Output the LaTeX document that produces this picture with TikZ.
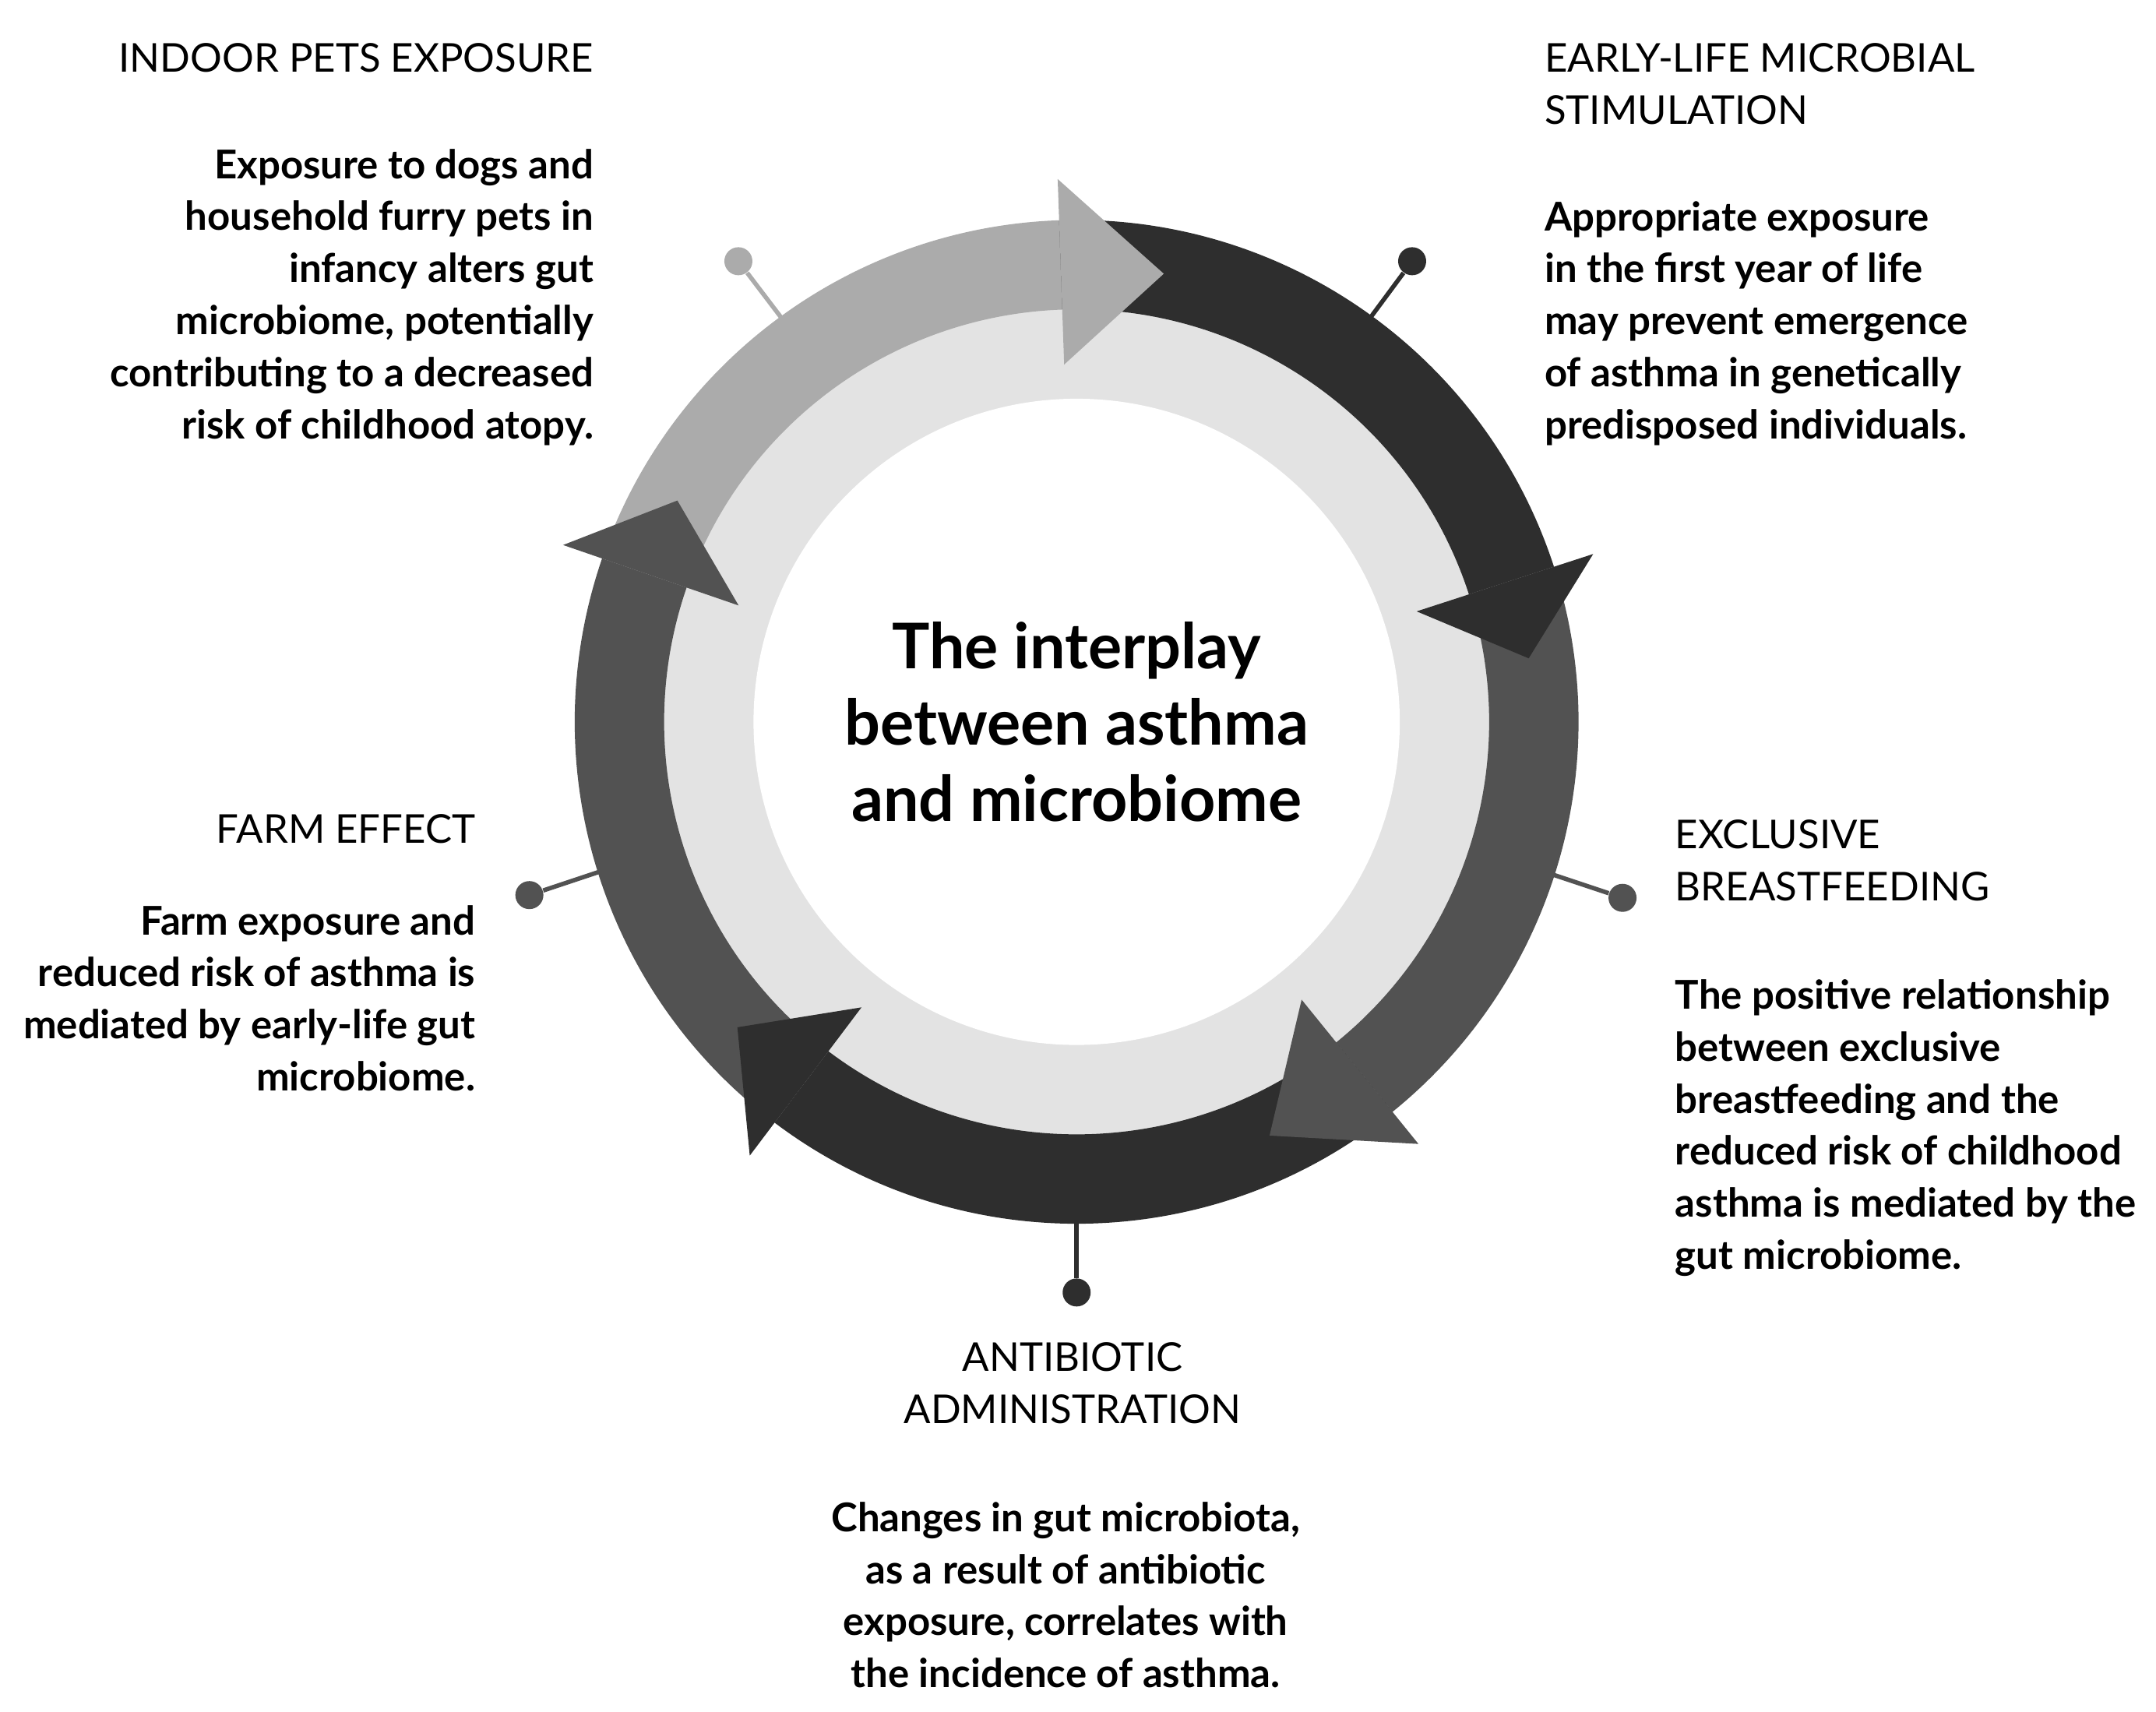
\documentclass[tikz,border=0pt]{standalone}
\usepackage{fontspec}
\setmainfont{Lato}
\usepackage{xcolor}
\usetikzlibrary{positioning}
\definecolor{lightarrow}{HTML}{ABABAB}
\definecolor{darkarrow}{HTML}{2E2E2E}
\definecolor{midarrow}{HTML}{525252}
\definecolor{innerring}{HTML}{E3E3E3}
\tikzset{
  head/.style={font=\fontsize{14.5}{19}\selectfont, inner sep=0pt},
  body/.style={font=\fontsize{14.5}{19}\selectfont\bfseries, inner sep=0pt},
  pin dot/.style={circle, inner sep=0pt, minimum size=0.36cm},
}
\newcommand{\ringband}[3]{\fill[#1] (#2:365) arc[start angle=#2, end angle=#3, radius=365] -- (#3:300) arc[start angle=#3, end angle=#2, radius=300] -- cycle;}
\newcommand{\ringhead}[3]{\fill[#1] (#2:260) -- (#3:332) -- (#2:395) -- cycle;}
\begin{document}
\begin{tikzpicture}[x=0.01765cm, y=0.01765cm]
\useasboundingbox (0,0) rectangle (1568,1245);
% pins
\coordinate (c) at (783,720);
\node[pin dot, fill=lightarrow] (p1) at (537,1055) {};
\node[pin dot, fill=darkarrow] (p2) at (1027,1055) {};
\node[pin dot, fill=midarrow] (p3) at (1180,592) {};
\node[pin dot, fill=darkarrow] (p4) at (783,305) {};
\node[pin dot, fill=midarrow] (p5) at (385,594) {};
\coordinate (e1) at (575,1005);
\coordinate (e2) at (990,1005);
\coordinate (e3) at (1120,612);
\coordinate (e4) at (783,370);
\coordinate (e5) at (445,614);
\draw[line width=1.6pt, lightarrow] (e1) -- (p1);
\draw[line width=1.6pt, darkarrow] (e2) -- (p2);
\draw[line width=1.6pt, midarrow] (e3) -- (p3);
\draw[line width=1.6pt, darkarrow] (e4) -- (p4);
\draw[line width=1.6pt, midarrow] (e5) -- (p5);
% ring
\begin{scope}[shift={(c)}]
\fill[innerring] (0,0) circle[radius=305];
\fill[white] (0,0) circle[radius=235];
\ringband{lightarrow}{161}{92}
\ringband{darkarrow}{92}{18}
\ringband{midarrow}{18}{-51}
\ringband{darkarrow}{-51}{-127}
\ringband{midarrow}{-127}{-199}
\ringhead{lightarrow}{92}{79}
\ringhead{darkarrow}{18}{8}
\ringhead{midarrow}{-51}{-65}
\ringhead{darkarrow}{-127}{-138}
\ringhead{midarrow}{-199}{-209}
\end{scope}
\node[font=\fontsize{23}{28}\selectfont\bfseries, align=center] (title) at (c) {The interplay\\between asthma\\and microbiome};
% labels
\node[head, anchor=north east, align=right] (h1) at (432,1214) {INDOOR PETS EXPOSURE};
\node[body, anchor=north east, align=right] (b1) at (432,1137) {Exposure to dogs and\\household furry pets in\\infancy alters gut\\microbiome, potentially\\contributing to a decreased\\risk of childhood atopy.};
\node[head, anchor=north west, align=left] (h2) at (1123,1214) {EARLY-LIFE MICROBIAL\\STIMULATION};
\node[body, anchor=north west, align=left] (b2) at (1123,1099) {Appropriate exposure\\in the first year of life\\may prevent emergence\\of asthma in genetically\\predisposed individuals.};
\node[head, anchor=north west, align=left] (h3) at (1218,649) {EXCLUSIVE\\BREASTFEEDING};
\node[body, anchor=north west, align=left] (b3) at (1218,533) {The positive relationship\\between exclusive\\breastfeeding and the\\reduced risk of childhood\\asthma is mediated by the\\gut microbiome.};
\node[head, anchor=north, align=center] (h4) at (780,269) {ANTIBIOTIC\\ADMINISTRATION};
\node[body, anchor=north, align=center] (b4) at (775,153) {Changes in gut microbiota,\\as a result of antibiotic\\exposure, correlates with\\the incidence of asthma.};
\node[head, anchor=north east, align=right] (h5) at (346,653) {FARM EFFECT};
\node[body, anchor=north east, align=right] (b5) at (346,587) {Farm exposure and\\reduced risk of asthma is\\mediated by early-life gut\\microbiome.};
\end{tikzpicture}
\end{document}
